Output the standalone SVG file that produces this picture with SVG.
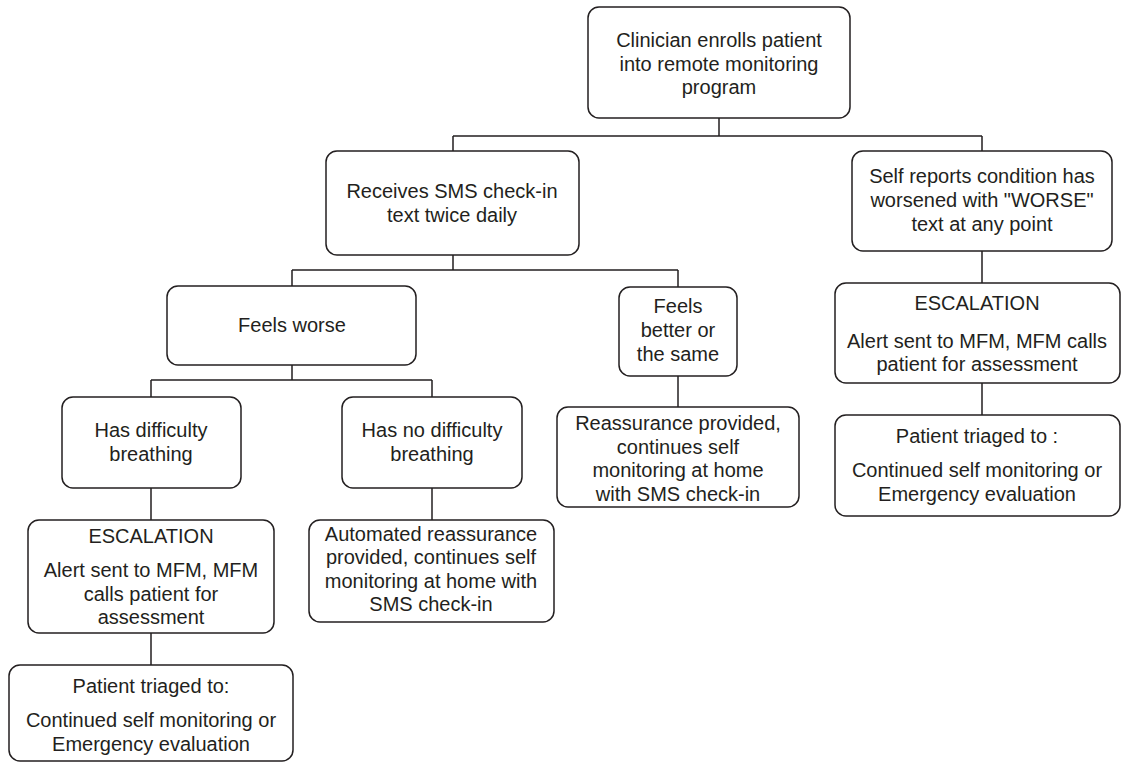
<svg xmlns="http://www.w3.org/2000/svg" width="1122" height="763" viewBox="0 0 1122 763">
<style>
.box{fill:#ffffff;stroke:#231f20;stroke-width:1.5}
.ln{fill:none;stroke:#231f20;stroke-width:1.5}
text{font-family:"Liberation Sans",Arial,sans-serif;font-size:20px;fill:#231f20;text-anchor:middle}
</style>
<rect width="1122" height="763" fill="#ffffff"/>
<g id="connectors">
<path class="ln" d="M719,118 V136 M453,136 H982 M453,136 V151 M982,136 V151"/>
<path class="ln" d="M453,255 V270 M292,270 H678 M292,270 V286 M678,270 V287"/>
<path class="ln" d="M292,365 V380 M151,380 H432 M151,380 V397 M432,380 V397"/>
<path class="ln" d="M151,488 V520 M151,633 V665"/>
<path class="ln" d="M432,488 V520"/>
<path class="ln" d="M678,376 V407"/>
<path class="ln" d="M982,251 V283 M982,383 V415"/>
</g>
<g id="n_enroll">
<rect class="box" x="588" y="7" width="262" height="111" rx="11"/>
<text x="719" y="47">Clinician enrolls patient</text>
<text x="719" y="71">into remote monitoring</text>
<text x="719" y="94">program</text>
</g>
<g id="n_sms">
<rect class="box" x="326" y="151" width="253" height="104" rx="11"/>
<text x="452" y="198">Receives SMS check-in</text>
<text x="452" y="222">text twice daily</text>
</g>
<g id="n_selfreport">
<rect class="box" x="852" y="151" width="260" height="100" rx="11"/>
<text x="982" y="183">Self reports condition has</text>
<text x="982" y="207">worsened with "WORSE"</text>
<text x="982" y="231">text at any point</text>
</g>
<g id="n_esc_right">
<rect class="box" x="835" y="283" width="285" height="100" rx="11"/>
<text x="977" y="310">ESCALATION</text>
<text x="977" y="348">Alert sent to MFM, MFM calls</text>
<text x="977" y="371">patient for assessment</text>
</g>
<g id="n_triage_right">
<rect class="box" x="835" y="415" width="285" height="101" rx="11"/>
<text x="977" y="443">Patient triaged to :</text>
<text x="977" y="477">Continued self monitoring or</text>
<text x="977" y="501">Emergency evaluation</text>
</g>
<g id="n_worse">
<rect class="box" x="167" y="286" width="249" height="79" rx="11"/>
<text x="292" y="332">Feels worse</text>
</g>
<g id="n_better">
<rect class="box" x="619" y="287" width="118" height="89" rx="11"/>
<text x="678" y="313">Feels</text>
<text x="678" y="337">better or</text>
<text x="678" y="361">the same</text>
</g>
<g id="n_reassure">
<rect class="box" x="557" y="407" width="242" height="100" rx="11"/>
<text x="678" y="430">Reassurance provided,</text>
<text x="678" y="454">continues self</text>
<text x="678" y="477">monitoring at home</text>
<text x="678" y="501">with SMS check-in</text>
</g>
<g id="n_difficulty">
<rect class="box" x="62" y="397" width="179" height="91" rx="11"/>
<text x="151" y="437">Has difficulty</text>
<text x="151" y="461">breathing</text>
</g>
<g id="n_nodifficulty">
<rect class="box" x="342" y="397" width="180" height="91" rx="11"/>
<text x="432" y="437">Has no difficulty</text>
<text x="432" y="461">breathing</text>
</g>
<g id="n_esc_left">
<rect class="box" x="28" y="520" width="246" height="113" rx="11"/>
<text x="151" y="543">ESCALATION</text>
<text x="151" y="577">Alert sent to MFM, MFM</text>
<text x="151" y="601">calls patient for</text>
<text x="151" y="624">assessment</text>
</g>
<g id="n_automated">
<rect class="box" x="309" y="520" width="245" height="102" rx="11"/>
<text x="431" y="541">Automated reassurance</text>
<text x="431" y="564">provided, continues self</text>
<text x="431" y="588">monitoring at home with</text>
<text x="431" y="611">SMS check-in</text>
</g>
<g id="n_triage_left">
<rect class="box" x="9" y="665" width="284" height="96" rx="11"/>
<text x="151" y="693">Patient triaged to:</text>
<text x="151" y="727">Continued self monitoring or</text>
<text x="151" y="751">Emergency evaluation</text>
</g>
</svg>
